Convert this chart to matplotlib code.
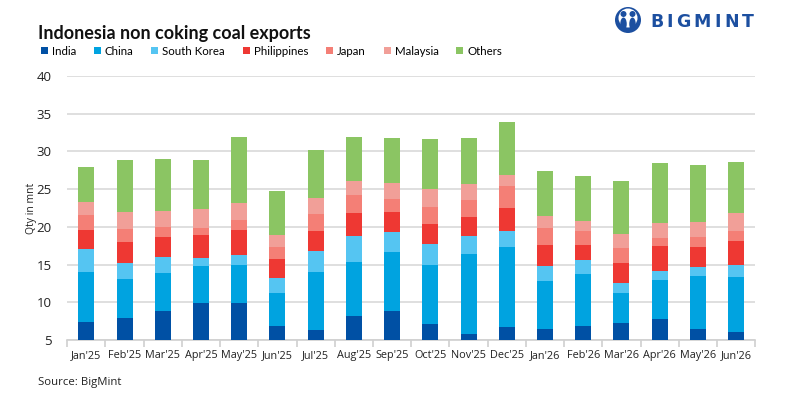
import matplotlib
matplotlib.use("Agg")
import matplotlib.pyplot as plt
import numpy as np
from matplotlib.patches import Circle, Ellipse

months = ["Jan'25", "Feb'25", "Mar'25", "Apr'25", "May'25", "Jun'25", "Jul'25", "Aug'25",
          "Sep'25", "Oct'25", "Nov'25", "Dec'25", "Jan'26", "Feb'26", "Mar'26", "Apr'26",
          "May'26", "Jun'26"]
india = [7.4, 7.9, 8.85, 9.9, 9.9, 6.86, 6.33, 8.2, 8.85, 7.1, 5.8, 6.7, 6.46, 6.86, 7.26, 7.8, 6.46, 6.06]
china = [6.6, 5.2, 5.05, 4.9, 5.06, 4.38, 7.67, 7.15, 7.85, 7.86, 10.6, 10.65, 6.34, 6.9, 3.98, 5.16, 7.04, 7.34]
south_korea = [3.1, 2.1, 2.1, 1.1, 1.34, 1.96, 2.8, 3.45, 2.6, 2.74, 2.4, 2.15, 2.0, 1.84, 1.33, 1.24, 1.2, 1.56]
philippines = [2.5, 2.8, 2.7, 3.0, 3.3, 2.55, 2.7, 3.1, 2.7, 2.7, 2.5, 3.0, 2.8, 2.0, 2.63, 3.3, 2.6, 3.14]
japan = [2.0, 1.7, 1.3, 1.0, 1.3, 1.6, 2.2, 2.3, 1.7, 2.25, 2.3, 2.9, 2.3, 1.9, 2.0, 1.0, 1.4, 1.4]
malaysia = [1.7, 2.3, 2.1, 2.5, 2.3, 1.55, 2.15, 1.9, 2.1, 2.35, 2.1, 1.5, 1.6, 1.3, 1.9, 2.0, 2.0, 2.4]
others = [4.7, 6.9, 6.9, 6.4, 8.7, 5.9, 6.35, 5.85, 6.0, 6.7, 6.1, 7.0, 5.9, 6.0, 7.0, 8.0, 7.5, 6.7]

series_names = ["India", "China", "South Korea", "Philippines", "Japan", "Malaysia", "Others"]
series_vals = [india, china, south_korea, philippines, japan, malaysia, others]
colors = ["#0050A4", "#00A3E0", "#55C5F2", "#EE3833", "#F47F76", "#F19F98", "#8BC563"]

plt.rcParams['font.family'] = ['Open Sans', 'DejaVu Sans']

fig = plt.figure(figsize=(8, 4), dpi=100)
ax = fig.add_axes([0.084, 0.15, 0.86, 0.66])

x = np.arange(len(months))
bottom = np.zeros(len(months))
handles = []
for name, vals, c in zip(series_names, series_vals, colors):
    v = np.array(vals)
    h = ax.bar(x, v, bottom=bottom, width=0.42, color=c, label=name, zorder=3)
    handles.append(h)
    bottom += v

ax.set_xlim(-0.5, len(months) - 0.5)
ax.set_ylim(5, 40)
ax.set_yticks(range(5, 41, 5))
ax.yaxis.grid(True, color="#D9D9D9", linewidth=1.2, zorder=0)
for s in ["top", "right", "left"]:
    ax.spines[s].set_visible(False)
ax.spines["bottom"].set_color("#D0D0D0")
ax.spines["bottom"].set_linewidth(1.2)
ax.set_xticks(x)
ax.set_xticklabels(months, fontsize=7.8, color="#222222")
ax.tick_params(axis="x", length=0, pad=7)
ax.set_xticks(np.arange(-0.5, len(months), 1.0), minor=True)
ax.tick_params(axis="x", which="minor", length=5, color="#D0D0D0", width=1.2)
ax.tick_params(axis="y", length=0, labelsize=9.5, colors="#222222", pad=11)
ax.set_ylabel("Qty in mnt", fontsize=7.5, color="#222222", labelpad=0)

fig.text(0.047, 0.915, "Indonesia non coking coal exports", fontsize=13, fontweight="bold",
         color="#111111", va="center", ha="left", family=["Lato", "DejaVu Sans"])
fig.legend(handles=handles, labels=series_names, loc="center left", bbox_to_anchor=(0.051, 0.872),
           ncol=7, frameon=False, handlelength=0.6, handleheight=0.6,
           handletextpad=0.35, columnspacing=1.55, borderaxespad=0, borderpad=0,
           prop={"family": ["Lato", "DejaVu Sans"], "size": 8.3})
fig.text(0.047, 0.045, "Source: BigMint", fontsize=8.2, color="#222222", va="center", ha="left")

# logo
logo_blue = "#1C4FA0"
renderer = fig.canvas.get_renderer()
xpos = 650.0
for ch in "BIGMINT":
    t = fig.text(xpos / 800, 0.945, ch, fontsize=12.5, fontweight="bold", color=logo_blue,
                 va="center", ha="left", family=["DejaVu Sans"])
    w = t.get_window_extent(renderer=renderer).width
    xpos += w + 3.2
cx, cy = 6.28, 3.80
fig.patches.append(Circle((cx, cy), 0.13, transform=fig.dpi_scale_trans,
                          facecolor=logo_blue, edgecolor="none"))
fig.patches.append(Circle((cx, cy + 0.02), 0.095, transform=fig.dpi_scale_trans,
                          facecolor="white", edgecolor="none"))
for dx in (-0.045, 0.045):
    fig.patches.append(Circle((cx + dx, cy + 0.06), 0.03, transform=fig.dpi_scale_trans,
                              facecolor=logo_blue, edgecolor="none"))
    fig.patches.append(Ellipse((cx + dx, cy - 0.04), 0.065, 0.13, transform=fig.dpi_scale_trans,
                               facecolor=logo_blue, edgecolor="none"))

fig.savefig("out.png", dpi=100)
